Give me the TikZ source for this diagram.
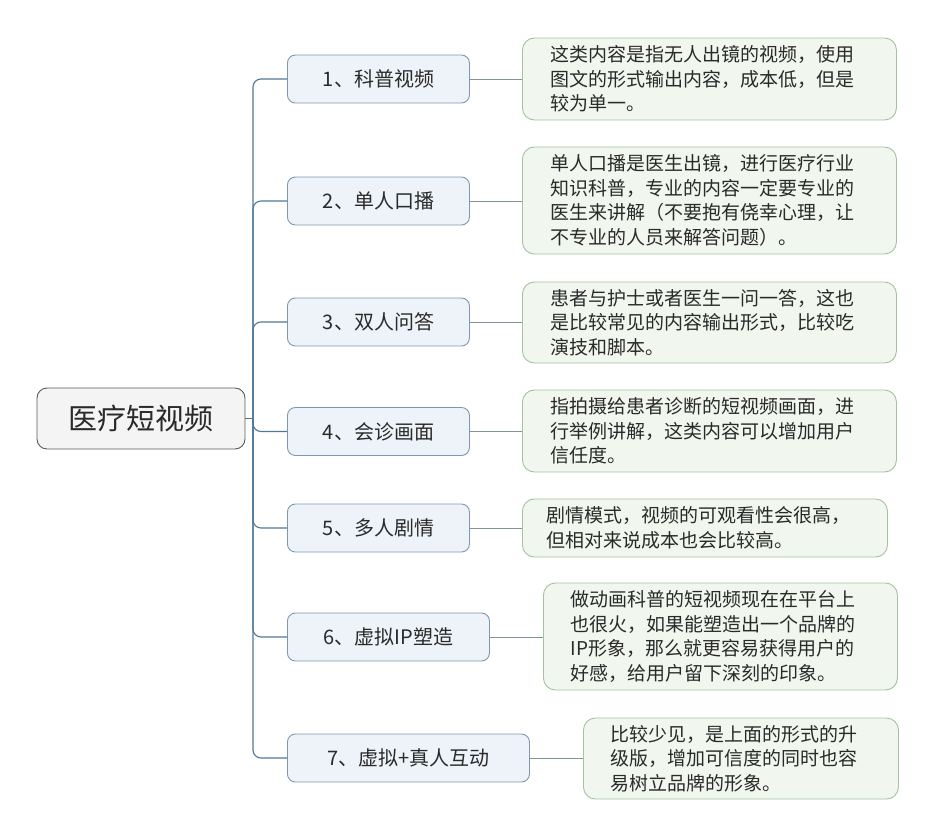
\documentclass[tikz,border=0pt]{standalone}
\usepackage{fontspec}
\setmainfont{Noto Sans CJK SC}
\definecolor{rootfill}{HTML}{F4F4F4}
\definecolor{rootdraw}{HTML}{5A5A5A}
\definecolor{lfill}{HTML}{EEF3F9}
\definecolor{ldraw}{HTML}{7E98B3}
\definecolor{dfill}{HTML}{F1F7EF}
\definecolor{ddraw}{HTML}{A3C29D}
\definecolor{trunkc}{HTML}{4F7798}
\definecolor{connc}{HTML}{7F9A8C}
\definecolor{txt}{HTML}{2A2A2A}
\begin{document}
\begin{tikzpicture}[x=1pt,y=-1pt,
  rootbox/.style={draw=rootdraw, fill=rootfill, line width=0.9pt, rounded corners=10pt,
    minimum width=208pt, minimum height=61pt, inner sep=0pt, text=txt,
    font=\fontsize{29}{34}\selectfont},
  lbox/.style={draw=ldraw, fill=lfill, line width=0.9pt, rounded corners=8pt,
    minimum height=48pt, inner sep=0pt, anchor=west, text=txt,
    font=\fontsize{20}{24}\selectfont},
  dbox/.style={draw=ddraw, fill=dfill, line width=0.9pt, rounded corners=12pt,
    inner ysep=0pt, anchor=west, align=left, text=txt,
    font=\fontsize{19}{24.5}\selectfont},
  trunk/.style={draw=trunkc, line width=1.1pt, rounded corners=8pt},
  conn/.style={draw=connc, line width=0.9pt}]
\useasboundingbox (0,0) rectangle (937,838);

\node[rootbox] (root) at (141,418.5) {医疗短视频};

\node[lbox, minimum width=182pt] (L1) at (287,79) {1、科普视频};
\node[lbox, minimum width=182pt] (L2) at (287,201) {2、单人口播};
\node[lbox, minimum width=182pt] (L3) at (287,322) {3、双人问答};
\node[lbox, minimum width=182pt] (L4) at (287,431.5) {4、会诊画面};
\node[lbox, minimum width=182pt] (L5) at (287,528) {5、多人剧情};
\node[lbox, minimum width=202pt] (L6) at (287,637) {6、虚拟IP塑造};
\node[lbox, minimum width=242pt] (L7) at (287,758) {7、虚拟+真人互动};

\node[dbox, inner xsep=28pt, text width=318pt, minimum height=82pt] (D1) at (522,79)
  {这类内容是指无人出镜的视频，使用\\图文的形式输出内容，成本低，但是\\较为单一。};
\node[dbox, inner xsep=28pt, text width=318pt, minimum height=107pt] (D2) at (522,200.5)
  {单人口播是医生出镜，进行医疗行业\\知识科普，专业的内容一定要专业的\\医生来讲解（不要抱有侥幸心理，让\\不专业的人员来解答问题）。};
\node[dbox, inner xsep=28pt, text width=318pt, minimum height=81pt] (D3) at (522,322.5)
  {患者与护士或者医生一问一答，这也\\是比较常见的内容输出形式，比较吃\\演技和脚本。};
\node[dbox, inner xsep=28pt, text width=318pt, minimum height=82pt] (D4) at (522,431)
  {指拍摄给患者诊断的短视频画面，进\\行举例讲解，这类内容可以增加用户\\信任度。};
\node[dbox, inner xsep=24pt, text width=317pt, minimum height=58pt] (D5) at (522,528)
  {剧情模式，视频的可观看性会很高，\\但相对来说成本也会比较高。};
\node[dbox, inner xsep=27pt, text width=300pt, minimum height=107pt] (D6) at (543,636.5)
  {做动画科普的短视频现在在平台上\\也很火，如果能塑造出一个品牌的\\IP形象，那么就更容易获得用户的\\好感，给用户留下深刻的印象。};
\node[dbox, inner xsep=27pt, text width=261pt, minimum height=81pt] (D7) at (583,758.5)
  {比较少见，是上面的形式的升\\级版，增加可信度的同时也容\\易树立品牌的形象。};

\coordinate (J) at (253,418.5);
\draw[trunk, rounded corners=0pt] (root.east) -- (J);
\foreach \i in {1,...,7} {
  \draw[trunk] (J) |- (L\i.west);
  \draw[conn] (L\i.east) -- (L\i.east -| D\i.west);
}
\end{tikzpicture}
\end{document}
